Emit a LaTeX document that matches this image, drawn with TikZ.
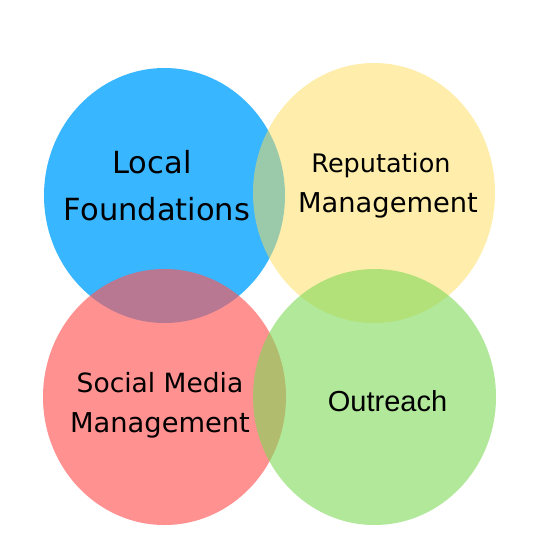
\documentclass[tikz,border=0pt]{standalone}
\usepackage{fontspec}
\setmainfont{DejaVu Sans}
\newfontfamily\arialfont{Liberation Sans}
\definecolor{cblue}{HTML}{38B6FF}
\definecolor{cyellow}{HTML}{FFDE59}
\definecolor{cred}{HTML}{FF5757}
\definecolor{cgreen}{HTML}{7ED957}
\tikzset{
  lbl/.style={anchor=base, inner sep=0pt, text=black},
  bigtxt/.style={font=\fontsize{30.5}{30.5}\selectfont},
  midtxt/.style={font=\fontsize{27.3}{27.3}\selectfont},
}
\begin{document}
\begin{tikzpicture}[x=1pt,y=-1pt]
\useasboundingbox (0,0) rectangle (539,539);
\fill[white] (0,0) rectangle (539,539);
% circles
\fill[cblue] (164.5,195.5) ellipse [x radius=120.5, y radius=127.5];
\fill[cyellow, fill opacity=0.5] (374,193) ellipse [x radius=121, y radius=130];
\fill[cred, fill opacity=0.65] (164.5,397) ellipse [x radius=121.5, y radius=128];
\fill[cgreen, fill opacity=0.6] (374.5,397) ellipse [x radius=121.5, y radius=128];
% labels
\node[lbl, bigtxt] (lf1) at (152,173) {Local};
\node[lbl, bigtxt] (lf2) at (157,220) {Foundations};
\node[lbl, font=\fontsize{25.5}{25.5}\selectfont] (rm1) at (381,172) {Reputation};
\node[lbl, midtxt] (rm2) at (388,212) {Management};
\node[lbl, font=\fontsize{26.5}{26.5}\selectfont] (sm1) at (160,392) {Social Media};
\node[lbl, midtxt] (sm2) at (160,432) {Management};
\node[lbl, font=\arialfont\fontsize{29}{29}\selectfont] (ou) at (387.5,411) {Outreach};
\end{tikzpicture}
\end{document}
